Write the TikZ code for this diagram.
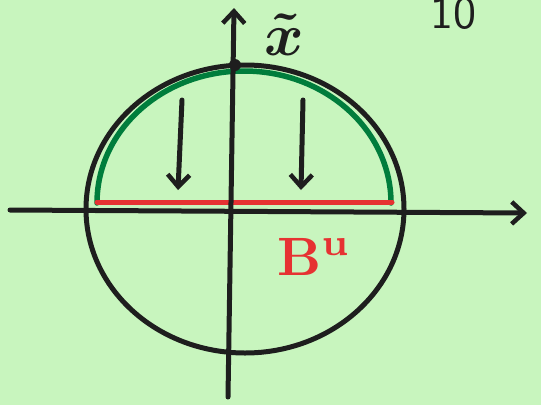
\documentclass[tikz,border=0pt]{standalone}
\usetikzlibrary{arrows.meta}
\usepackage{bm}
\definecolor{bgc}{RGB}{200,245,190}
\definecolor{ink}{RGB}{30,30,30}
\definecolor{pgreen}{RGB}{0,125,60}
\definecolor{pred}{RGB}{230,50,50}
\tikzset{
  pen/.style={draw=ink, line width=5pt, line cap=round, line join=round},
  barb/.style={-{Straight Barb[length=12pt,width=22pt,line width=4.5pt]}},
  lbl/.style={inner sep=0pt, transform shape},
}
\begin{document}
\begin{tikzpicture}[x=1pt,y=-1pt]
\fill[bgc] (0,0) rectangle (541,405);
\useasboundingbox (0,0) rectangle (541,405);
% named points
\coordinate (xl) at (10,210);
\coordinate (xr) at (527,213);
\coordinate (yb) at (228,397);
\coordinate (yt) at (234,8);
\coordinate (top) at (235,65);
\coordinate (a1s) at (182,100);
\coordinate (a1e) at (178,190);
\coordinate (a2s) at (303,100);
\coordinate (a2e) at (301,190);
% green upper arc
\draw[pgreen, line width=5.5pt, line cap=round] (97,203) arc[start angle=180,end angle=360,x radius=147,y radius=132];
% red segment
\draw[pred, line width=5pt, line cap=round] (97,202) -- (392,202);
% circle
\draw[pen] (245,209) ellipse[x radius=159, y radius=144];
% axes
\draw[pen, barb] (xl) -- (xr);
\draw[pen, barb] (yb) -- (yt);
% top dot
\fill[ink] (top) circle (6);
% down arrows
\draw[pen, barb] (a1s) -- (a1e);
\draw[pen, barb] (a2s) -- (a2e);
% labels
\node[lbl, text=ink, anchor=base, scale=6] (xt) at (284,55) {$\bm{\tilde{x}}$};
\node[lbl, text=pred, anchor=base west, scale=5.4] (bu) at (276,275) {$\mathbf{B}^{\mathbf{u}}$};
\node[lbl, text=ink, anchor=base, scale=4.6] (pg) at (453,28) {\textsf{10}};
\end{tikzpicture}
\end{document}
